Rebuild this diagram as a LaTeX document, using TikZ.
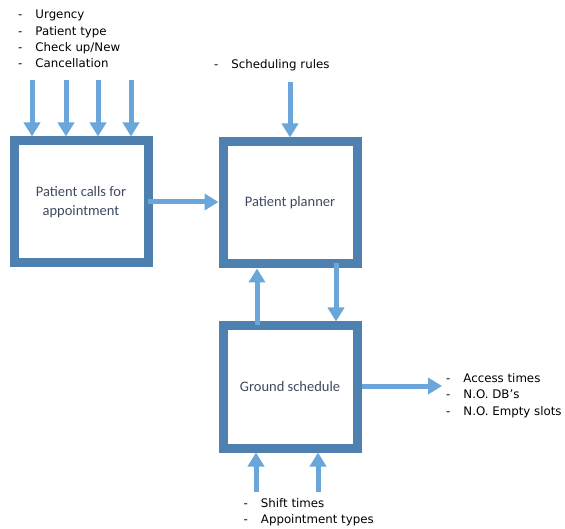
\documentclass[tikz,border=0pt]{standalone}
\usepackage{fontspec}
\setmainfont{DejaVu Sans}
\newfontfamily\boxfont{Carlito}
\usetikzlibrary{arrows.meta}
\definecolor{boxblue}{HTML}{4F81B0}
\definecolor{flowblue}{HTML}{6AA6DA}
\definecolor{boxtext}{HTML}{3E4A5F}

\begin{document}
\begin{tikzpicture}[x=1pt,y=-1pt,
	block/.style={draw=boxblue, line width=9pt, minimum width=134pt, minimum height=122pt, align=center, text=boxtext, font=\boxfont\fontsize{14.5}{19}\selectfont},
	flow/.style={draw=flowblue, line width=5pt, -{Triangle[width=16pt,length=14pt]}},
	lst/.style={anchor=west, inner sep=0pt, font=\fontsize{11.8}{16.3}\selectfont}]
	\useasboundingbox (0,0) rectangle (565,529);
	%Boxes
	\node [block] (calls) at (81,202) {Patient calls for\\appointment};
	\node [block] (planner) at (290,203) {Patient planner};
	\node [block] (ground) at (290,387) {Ground schedule};
	%Inputs of the call
	\node [lst] (callinfo) at (18,40) {\begin{tabular}{@{}l@{\hspace{13pt}}l@{}}
		- & Urgency\\
		- & Patient type\\
		- & Check up/New\\
		- & Cancellation
	\end{tabular}};
	\foreach \x [count=\i] in {32,66,98,131} {
		\coordinate (in\i) at (\x,80);
		\draw[flow] (in\i) -- (in\i |- calls.north);
	}
	%Rules
	\node [lst] (rules) at (214,65.5) {\begin{tabular}{@{}l@{\hspace{13pt}}l@{}}
		- & Scheduling rules
	\end{tabular}};
	\coordinate (rulesin) at (290,82);
	\draw[flow] (rulesin) -- (planner.north);
	%Between boxes
	\draw[flow] ([xshift=-4.5pt]calls.east) -- (calls.east -| planner.west);
	\coordinate (up) at (257,325);
	\draw[flow] (up) -- (up |- planner.south);
	\coordinate (down) at (336,263);
	\draw[flow] (down) -- (down |- ground.north);
	%Outputs
	\coordinate (out) at (442,386);
	\draw[flow] (ground.east |- out) -- (out);
	\node [lst] (results) at (446,395.5) {\begin{tabular}{@{}l@{\hspace{13pt}}l@{}}
		- & Access times\\
		- & N.O. DB’s\\
		- & N.O. Empty slots
	\end{tabular}};
	%Ground schedule inputs
	\foreach \x [count=\i] in {256,318} {
		\coordinate (gs\i) at (\x,492);
		\draw[flow] (gs\i) -- (gs\i |- ground.south);
	}
	\node [lst] (shifts) at (243.5,512) {\begin{tabular}{@{}l@{\hspace{13pt}}l@{}}
		- & Shift times\\
		- & Appointment types
	\end{tabular}};
\end{tikzpicture}
\end{document}
